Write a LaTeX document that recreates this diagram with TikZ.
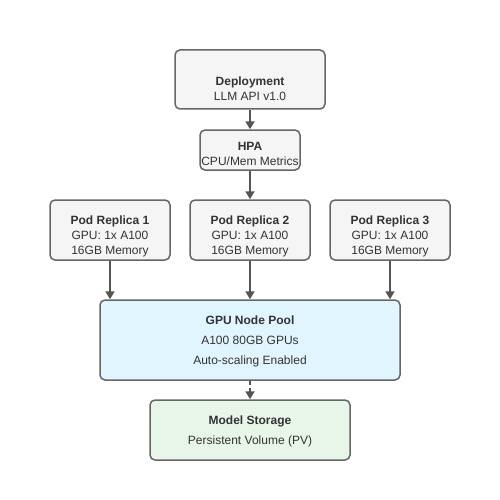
\documentclass[tikz,border=0pt]{standalone}
\usepackage{fontspec}
\setmainfont{Liberation Sans}
\usetikzlibrary{arrows.meta}
\definecolor{edgegray}{HTML}{666666}
\definecolor{arrowgray}{HTML}{555555}
\definecolor{textgray}{HTML}{333333}
\definecolor{boxfill}{HTML}{F5F5F5}
\definecolor{poolblue}{HTML}{E1F5FE}
\definecolor{storegreen}{HTML}{E8F5E9}
\tikzset{
  box/.style={draw=edgegray, fill=boxfill, line width=1.5pt, rounded corners=5pt,
    align=center, text=textgray, font=\fontsize{12}{15}\selectfont, inner sep=0pt},
  boxtext/.style={align=center, text=textgray, font=\fontsize{12}{15}\selectfont},
  widetext/.style={align=center, text=textgray, font=\fontsize{12}{20}\selectfont},
  flow/.style={draw=arrowgray, line width=2pt, -{Triangle[length=8pt,width=9pt]}}
}
\begin{document}
\begin{tikzpicture}[x=1pt,y=-1pt]
    \useasboundingbox (0,0) rectangle (500,500);
    \fill[white] (0,0) rectangle (500,500);
    % top of the chain
    \node[box, minimum width=150pt, minimum height=59pt,
      label={[boxtext, yshift=-9pt]center:\textbf{Deployment}\\LLM API v1.0}]
      (deploy) at (250,79.5) {};
    \node[box, minimum width=100pt, minimum height=40pt,
      label={[boxtext, yshift=-3.5pt]center:\textbf{HPA}\\CPU/Mem Metrics}]
      (hpa) at (250,150) {};
    % replicas
    \foreach \i/\x in {1/110, 2/250, 3/390}
      \node[box, minimum width=120pt, minimum height=60pt,
        label={[boxtext, yshift=-6pt]center:\textbf{Pod Replica \i}\\GPU: 1x A100\\16GB Memory}]
        (pod\i) at (\x,230) {};
    % pool and storage
    \node[box, fill=poolblue, minimum width=300pt, minimum height=80pt,
      label={[widetext, yshift=-1.5pt]center:\textbf{GPU Node Pool}\\A100 80GB GPUs\\Auto-scaling Enabled}]
      (pool) at (250,340) {};
    \node[box, fill=storegreen, minimum width=200pt, minimum height=60pt,
      label={[widetext, yshift=-1.5pt]center:\textbf{Model Storage}\\Persistent Volume (PV)}]
      (store) at (250,430) {};
    \draw[flow] (deploy.south) -- (hpa.north);
    \draw[flow] (hpa.south) -- (pod2.north);
    \foreach \i in {1,2,3}
      \draw[flow] (pod\i.south) -- (pod\i.south |- pool.north);
    \draw[flow, dashed, dash pattern=on 4pt off 3pt] (pool.south) -- (store.north);
\end{tikzpicture}
\end{document}
